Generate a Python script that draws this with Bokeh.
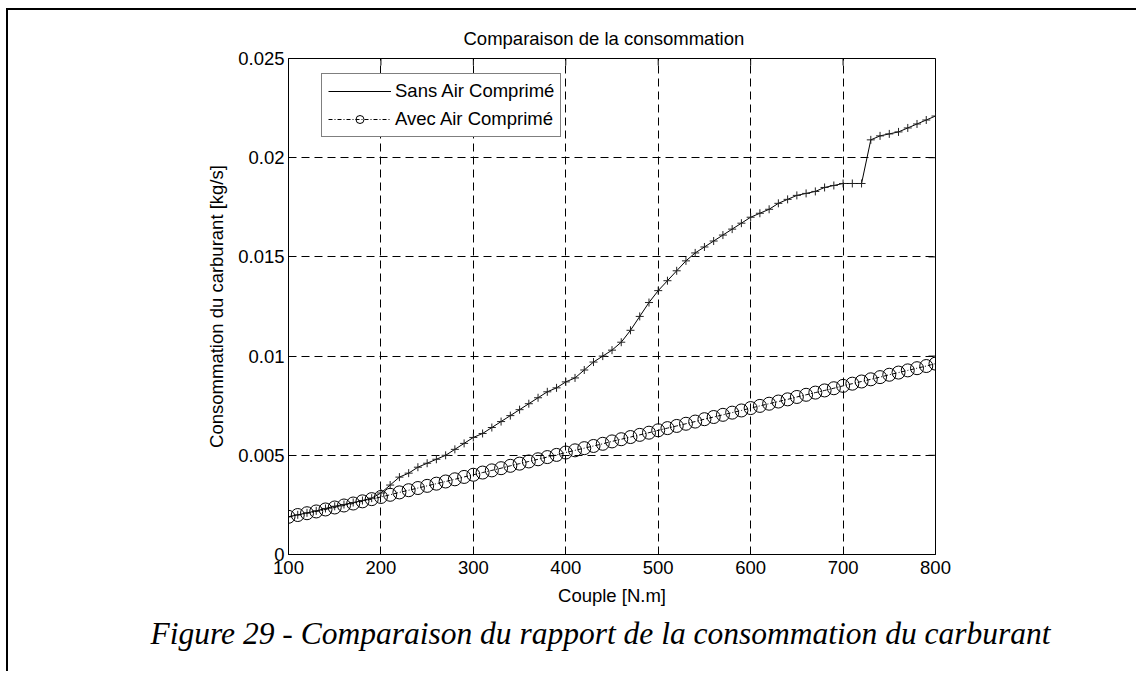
from bokeh.plotting import figure
from bokeh.models import (Range1d, FixedTicker, LinearAxis, Legend, LegendItem, Title)
from bokeh.embed import file_html
from bokeh.resources import INLINE

# ---------------- data ----------------
couple = [100, 110, 120, 130, 140, 150, 160, 170, 180, 190,
          200, 210, 220, 230, 240, 250, 260, 270, 280, 290,
          300, 310, 320, 330, 340, 350, 360, 370, 380, 390,
          400, 410, 420, 430, 440, 450, 460, 470, 480, 490,
          500, 510, 520, 530, 540, 550, 560, 570, 580, 590,
          600, 610, 620, 630, 640, 650, 660, 670, 680, 690,
          700, 710, 720, 730, 740, 750, 760, 770, 780, 790,
          800]

sans_air = [0.00190, 0.00200, 0.00210, 0.00220, 0.00232, 0.00243, 0.00252, 0.00262, 0.00272, 0.00284,
            0.00310, 0.00350, 0.00390, 0.00410, 0.00440, 0.00460, 0.00480, 0.00500, 0.00530, 0.00560,
            0.00590, 0.00610, 0.00640, 0.00670, 0.00700, 0.00730, 0.00760, 0.00790, 0.00820, 0.00840,
            0.00870, 0.00890, 0.00930, 0.00970, 0.01000, 0.01030, 0.01070, 0.01130, 0.01200, 0.01270,
            0.01330, 0.01380, 0.01430, 0.01480, 0.01520, 0.01550, 0.01580, 0.01610, 0.01640, 0.01670,
            0.01700, 0.01720, 0.01740, 0.01770, 0.01790, 0.01810, 0.01820, 0.01830, 0.01850, 0.01860,
            0.01870, 0.01870, 0.01870, 0.02090, 0.02110, 0.02120, 0.02130, 0.02150, 0.02170, 0.02190,
            0.02210]

avec_air = [0.00190, 0.00199, 0.00208, 0.00217, 0.00227, 0.00237, 0.00247, 0.00257, 0.00268, 0.00279,
            0.00290, 0.00301, 0.00313, 0.00324, 0.00335, 0.00346, 0.00357, 0.00368, 0.00379, 0.00391,
            0.00402, 0.00413, 0.00424, 0.00435, 0.00447, 0.00458, 0.00469, 0.00480, 0.00491, 0.00502,
            0.00514, 0.00525, 0.00536, 0.00547, 0.00558, 0.00570, 0.00581, 0.00592, 0.00603, 0.00614,
            0.00626, 0.00637, 0.00648, 0.00659, 0.00670, 0.00682, 0.00693, 0.00704, 0.00715, 0.00726,
            0.00738, 0.00749, 0.00760, 0.00771, 0.00782, 0.00794, 0.00805, 0.00816, 0.00827, 0.00838,
            0.00850, 0.00861, 0.00872, 0.00883, 0.00894, 0.00906, 0.00917, 0.00928, 0.00939, 0.00950,
            0.00962]

x_ticks = [100, 200, 300, 400, 500, 600, 700, 800]
y_ticks = [0, 0.005, 0.01, 0.015, 0.02, 0.025]
y_tick_labels = ["0", "0.005", "0.01", "0.015", "0.02", "0.025"]

title_text = "Comparaison de la consommation"
xlabel_text = "Couple [N.m]"
ylabel_text = "Consommation du carburant [kg/s]"
caption_text = "Figure 29 - Comparaison du rapport de la consommation du carburant"
label_sans = "Sans Air Comprimé"
label_avec = "Avec Air Comprimé"

# ---------------- figure ----------------
FONT = "Liberation Sans"
FS = "18.5px"
X0, X1 = 100, 800
Y0, Y1 = 0, 0.025

p = figure(width=1130, height=663, output_backend="svg", toolbar_location=None,
           x_range=Range1d(X0, X1), y_range=Range1d(Y0, Y1),
           x_axis_location=None, y_axis_location=None)
p.min_border_left = 280
p.min_border_right = 203
p.min_border_top = 48
p.min_border_bottom = 119
p.background_fill_color = "white"
p.border_fill_color = "white"
p.outline_line_color = "black"
p.outline_line_width = 1
p.styles = {"border-top": "2px solid black", "border-left": "2px solid black",
            "margin-left": "6px", "margin-top": "8px"}

xt = FixedTicker(ticks=x_ticks)
yt = FixedTicker(ticks=y_ticks)
overrides = {v: s for v, s in zip(y_ticks, y_tick_labels)}

def style_axis(ax, standoff):
    ax.major_tick_in = 7
    ax.major_tick_out = 0
    ax.minor_tick_line_color = None
    ax.axis_line_color = "black"
    ax.major_tick_line_color = "black"
    ax.major_label_text_font = FONT
    ax.major_label_text_font_size = FS
    ax.major_label_text_color = "black"
    ax.major_label_standoff = standoff
    ax.axis_label_text_font = FONT
    ax.axis_label_text_font_size = FS
    ax.axis_label_text_font_style = "normal"
    ax.axis_label_text_color = "black"

xb = LinearAxis(ticker=xt, axis_label=xlabel_text)
style_axis(xb, 6)
xb.axis_label_standoff = 8
p.add_layout(xb, "below")
yl = LinearAxis(ticker=yt, major_label_overrides=overrides, axis_label=ylabel_text)
style_axis(yl, 4)
yl.axis_label_standoff = 8
p.add_layout(yl, "left")

# inward ticks on the top and right sides of the box
tick_dx = 7 * (X1 - X0) / 647
tick_dy = 7 * (Y1 - Y0) / 496
p.segment(x0=x_ticks, y0=[Y1] * len(x_ticks), x1=x_ticks, y1=[Y1 - tick_dy] * len(x_ticks),
          line_color="black", line_width=1)
p.segment(x0=[X1] * len(y_ticks), y0=y_ticks, x1=[X1 - tick_dx] * len(y_ticks), y1=y_ticks,
          line_color="black", line_width=1)

p.xgrid.ticker = xt
p.ygrid.ticker = yt
for g in (p.xgrid, p.ygrid):
    g.grid_line_color = "black"
    g.grid_line_dash = "8 5"
    g.grid_line_width = 1

# ---------------- titles ----------------
p.title.text = title_text
p.title.align = "left"
p.title.offset = 175
p.title.standoff = 20
p.title.text_font = FONT
p.title.text_font_size = FS
p.title.text_font_style = "normal"
p.title.text_color = "black"

cap = Title(text=caption_text, align="left", offset=-138, standoff=11,
            text_font="Liberation Serif", text_font_size="31.5px",
            text_font_style="italic", text_color="black")
p.add_layout(cap, "below")

# ---------------- series ----------------
sans_line = p.line(couple, sans_air, line_color="black", line_width=1)
p.scatter(couple, sans_air, marker="cross", size=8, line_color="#222222", line_width=1)

avec_line = p.line(couple, avec_air, line_color="black", line_width=1, line_dash="4 2 1 2")
avec_pts = p.scatter(couple, avec_air, marker="circle", size=13, line_color="black",
                     line_width=1, fill_color=None)

legend = Legend(items=[LegendItem(label=label_sans, renderers=[sans_line]),
                       LegendItem(label=label_avec, renderers=[avec_line, avec_pts])],
                location=(33, 417))
legend.border_line_color = "black"
legend.border_line_width = 1
legend.background_fill_color = "white"
legend.background_fill_alpha = 1
legend.label_text_font = FONT
legend.label_text_font_size = FS
legend.label_text_color = "black"
legend.glyph_width = 63
legend.glyph_height = 20
legend.label_height = 20
legend.label_standoff = 4
legend.spacing = 6
legend.padding = 6
legend.margin = 0
p.add_layout(legend)

open("out.html", "w").write(file_html(p, INLINE))
